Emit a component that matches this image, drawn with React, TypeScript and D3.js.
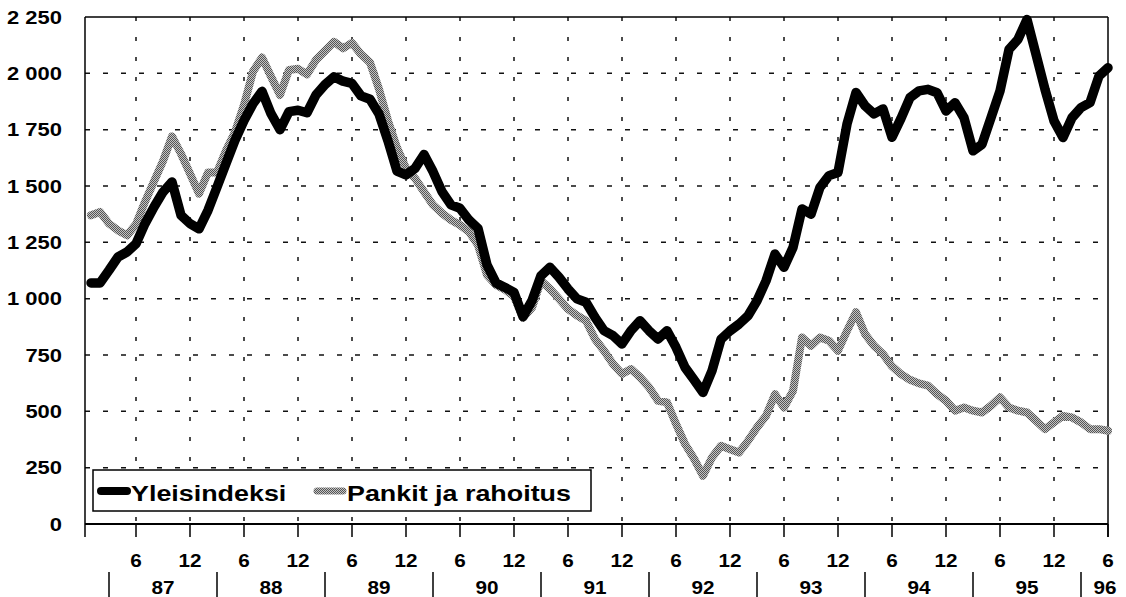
import React from "react";
import * as d3 from "d3";

// Monthly observations from 1987/1 to 1996/6
const startYear = 87;
const monthCount = 114;

const yleisindeksi = [
  1070, 1070, 1126, 1185, 1207, 1244, 1333, 1407, 1473, 1518, 1370, 1333,
  1310, 1392, 1495, 1600, 1703, 1791, 1865, 1920, 1821, 1750, 1830, 1836,
  1825, 1904, 1950, 1985, 1965, 1955, 1900, 1885, 1820, 1700, 1566, 1549,
  1578, 1640, 1564, 1475, 1416, 1401, 1349, 1312, 1150, 1070, 1050, 1028,
  920, 991, 1102, 1139, 1095, 1043, 999, 984, 917, 858, 836, 799,
  858, 902, 858, 821, 858, 784, 695, 640, 584, 680, 820, 857,
  887, 924, 991, 1079, 1198, 1139, 1227, 1398, 1375, 1494, 1546, 1560,
  1775, 1915, 1856, 1820, 1842, 1716, 1800, 1892, 1922, 1929, 1914, 1833,
  1870, 1803, 1656, 1685, 1803, 1922, 2106, 2151, 2239, 2084, 1929, 1789,
  1715, 1803, 1848, 1870, 1988, 2025,
];

const pankitJaRahoitus = [
  1370, 1385, 1333, 1303, 1281, 1330, 1430, 1520, 1610, 1720, 1643, 1555,
  1466, 1560, 1560, 1658, 1740, 1860, 2008, 2070, 1986, 1904, 2015, 2020,
  1995, 2060, 2100, 2140, 2111, 2135, 2085, 2048, 1930, 1790, 1670, 1578,
  1534, 1475, 1416, 1379, 1349, 1327, 1297, 1238, 1105, 1061, 1040, 1010,
  915, 960, 1080, 1043, 999, 954, 925, 902, 821, 769, 710, 666,
  688, 651, 607, 547, 540, 444, 355, 290, 214, 295, 347, 332,
  317, 369, 428, 480, 576, 517, 591, 828, 791, 828, 813, 769,
  857, 940, 843, 791, 754, 700, 665, 640, 624, 614, 577, 547,
  503, 517, 503, 495, 525, 562, 517, 503, 495, 458, 421, 451,
  480, 473, 451, 421, 421, 414,
];

const yTicks = [0, 250, 500, 750, 1000, 1250, 1500, 1750, 2000, 2250];
const yTickLabels = ["0", "250", "500", "750", "1 000", "1 250", "1 500", "1 750", "2 000", "2 250"];
const monthTickLabels = ["6", "12"];
const yearLabels = ["87", "88", "89", "90", "91", "92", "93", "94", "95", "96"];
const seriesNames = ["Yleisindeksi", "Pankit ja rahoitus"];

const W = 1126;
const H = 597;
const FONT = "'Liberation Sans', Arial, sans-serif";
const SX = 1.22;

export default function App() {
  const x = d3.scaleLinear().domain([0, monthCount - 1]).range([91, 1108]);
  const y = d3.scaleLinear().domain([0, 2250]).range([524, 17]);
  const left = x(-0.667);
  const right = x(monthCount - 1);
  const top = y(2250);
  const bottom = y(0);

  const line = d3
    .line<number>()
    .x((_, i) => x(i))
    .y((d) => y(d))
    .curve(d3.curveLinear);

  const tickIdx = d3.range(5, monthCount, 6);
  const sepIdx = d3.range(2, monthCount, 12);

  const txt = (
    key: string,
    tx: number,
    ty: number,
    s: string,
    size: number,
    anchor: "start" | "middle" | "end",
    sx: number = SX
  ) => (
    <text
      key={key}
      transform={`translate(${tx},${ty}) scale(${sx},1)`}
      textAnchor={anchor}
      fontFamily={FONT}
      fontWeight="bold"
      fontSize={size}
      fill="#000"
    >
      {s}
    </text>
  );

  return (
    <svg
      width={W}
      height={H}
      style={{ position: "absolute", left: 0, top: 0, background: "#fff" }}
    >
      <defs>
        <pattern id="dither" patternUnits="userSpaceOnUse" width={2} height={2}>
          <rect width={2} height={2} fill="#c4c4c4" />
          <rect x={0} y={0} width={1} height={1} fill="#555" />
          <rect x={1} y={1} width={1} height={1} fill="#555" />
        </pattern>
      </defs>

      {/* horizontal gridlines */}
      {yTicks
        .filter((t) => t > 0 && t < 2250)
        .map((t) => (
          <line
            key={"hg" + t}
            x1={left}
            x2={right}
            y1={y(t)}
            y2={y(t)}
            stroke="#111"
            strokeWidth={1.5}
            strokeDasharray="5 13"
          />
        ))}
      {/* vertical gridlines */}
      {tickIdx
        .filter((i) => i < monthCount - 1)
        .map((i) => (
          <line
            key={"vg" + i}
            x1={x(i)}
            x2={x(i)}
            y1={top}
            y2={bottom}
            stroke="#111"
            strokeWidth={1.5}
            strokeDasharray="4 16"
          />
        ))}

      {/* plot border */}
      <line x1={left} x2={right} y1={top} y2={top} stroke="#000" strokeWidth={1.5} />
      <line x1={right} x2={right} y1={top} y2={bottom + 13} stroke="#000" strokeWidth={1.5} />
      <line x1={left} x2={left} y1={top} y2={bottom + 13} stroke="#000" strokeWidth={1.5} />
      <line x1={left} x2={right} y1={bottom} y2={bottom} stroke="#000" strokeWidth={1.8} />

      {/* x ticks */}
      {tickIdx.map((i) => (
        <line
          key={"xt" + i}
          x1={x(i)}
          x2={x(i)}
          y1={bottom}
          y2={bottom + 13}
          stroke="#000"
          strokeWidth={1.5}
        />
      ))}

      {/* series */}
      <path
        d={line(pankitJaRahoitus) || ""}
        fill="none"
        stroke="url(#dither)"
        strokeWidth={8}
        strokeLinejoin="round"
        strokeLinecap="round"
      />
      <path
        d={line(yleisindeksi) || ""}
        fill="none"
        stroke="#000"
        strokeWidth={9.5}
        strokeLinejoin="round"
        strokeLinecap="round"
      />

      {/* y tick labels */}
      {yTicks.map((t, k) => txt("yl" + t, 62, y(t) + 6.5, yTickLabels[k], 18, "end"))}

      {/* month labels */}
      {tickIdx.map((i, k) =>
        txt("ml" + i, x(i), 567, monthTickLabels[k % 2], 18, "middle", 1.15)
      )}

      {/* year separators */}
      {sepIdx.map((i) => (
        <line
          key={"ys" + i}
          x1={x(i)}
          x2={x(i)}
          y1={572}
          y2={597}
          stroke="#000"
          strokeWidth={1.5}
        />
      ))}
      {/* year labels */}
      {yearLabels.map((lab, k) => {
        const i0 = 2 + 12 * k;
        const i1 = Math.min(i0 + 12, monthCount - 1);
        const cx = k === yearLabels.length - 1 ? x(monthCount - 1) - 3 : (x(i0) + x(i1)) / 2;
        return txt("yr" + lab, cx, 594, lab, 18, "middle", 1.15);
      })}

      {/* legend */}
      <rect x={93} y={470} width={498} height={41} fill="#fff" stroke="#000" strokeWidth={1.5} />
      <line x1={101} x2={127} y1={491} y2={491} stroke="#000" strokeWidth={8} strokeLinecap="round" />
      {txt("lg0", 131, 500.5, seriesNames[0], 21.5, "start", 1.25)}
      <line x1={317} x2={343} y1={491} y2={491} stroke="url(#dither)" strokeWidth={7} strokeLinecap="round" />
      {txt("lg1", 347, 500.5, seriesNames[1], 21.5, "start", 1.25)}
    </svg>
  );
}
